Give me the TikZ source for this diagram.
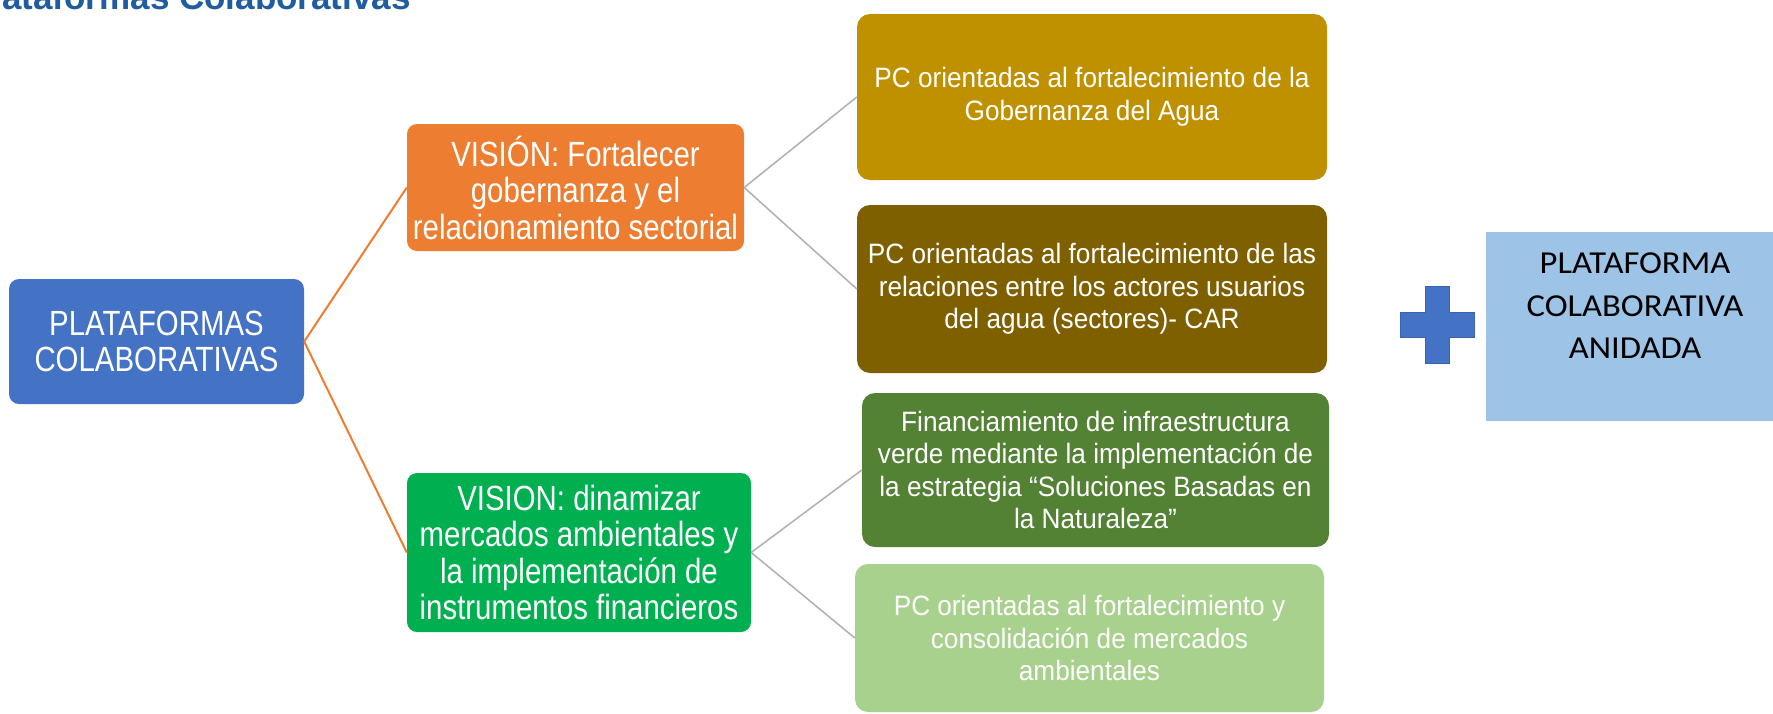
\documentclass[tikz,border=0pt]{standalone}
\usepackage{fontspec}
\setmainfont{Liberation Sans}
\newfontfamily\narrowL[FakeStretch=0.84]{Liberation Sans}
\newfontfamily\narrowR[FakeStretch=0.935]{Liberation Sans}
\newfontfamily\calib[FakeStretch=1.08]{Carlito}
\definecolor{cBlue}{HTML}{4472C4}
\definecolor{cBlueDk}{HTML}{3A63AE}
\definecolor{cOrange}{HTML}{ED7D31}
\definecolor{cGreen}{HTML}{00B050}
\definecolor{cGold}{HTML}{BF9000}
\definecolor{cBrown}{HTML}{7F6000}
\definecolor{cDkGreen}{HTML}{548235}
\definecolor{cLtGreen}{HTML}{A9D18E}
\definecolor{cLtBlue}{HTML}{9DC3E6}
\definecolor{cGray}{HTML}{B0B0B0}
\definecolor{cTitle}{HTML}{1F5CA0}
\begin{document}
\begin{tikzpicture}[x=1pt,y=-1pt,
  box/.style={rectangle, inner sep=0pt, align=center, text=white},
  lbox/.style={box, rounded corners=10pt, font=\narrowL\fontsize{35}{36.5}\selectfont},
  rbox/.style={box, rounded corners=13pt, font=\narrowR\fontsize{28}{32.5}\selectfont},
  orangeline/.style={draw=cOrange, line width=2pt},
  grayline/.style={draw=cGray, line width=1.5pt}]
\useasboundingbox (0,0) rectangle (1773,713);
\fill[white] (0,0) rectangle (1773,713);

\node[anchor=base west, inner sep=0pt, text=cTitle, font=\bfseries\fontsize{35}{40}\selectfont] (title) at (-31,9) {Plataformas Colaborativas};

\node[lbox, fill=cBlue, minimum width=295pt, minimum height=125pt] (plat) at (156.5,341.5) {PLATAFORMAS\\COLABORATIVAS};
\node[lbox, fill=cOrange, minimum width=337pt, minimum height=127pt] (vis1) at (575.5,187.5) {VISIÓN: Fortalecer\\gobernanza y el\\relacionamiento sectorial};
\node[lbox, fill=cGreen, minimum width=344pt, minimum height=159pt] (vis2) at (579,552.5) {VISION: dinamizar\\mercados ambientales y\\la implementación de\\instrumentos financieros};

\node[rbox, fill=cGold, minimum width=470pt, minimum height=166pt] (gob) at (1092,97) {PC orientadas al fortalecimiento de la\\Gobernanza del Agua};
\node[rbox, fill=cBrown, minimum width=470pt, minimum height=168pt] (rel) at (1092,289) {PC orientadas al fortalecimiento de las\\relaciones entre los actores usuarios\\del agua (sectores)- CAR};
\node[rbox, fill=cDkGreen, minimum width=467pt, minimum height=154pt] (fin) at (1095.5,470) {Financiamiento de infraestructura\\verde mediante la implementación de\\la estrategia “Soluciones Basadas en\\la Naturaleza”};
\node[rbox, fill=cLtGreen, minimum width=469pt, minimum height=148pt] (mer) at (1089.5,638) {PC orientadas al fortalecimiento y\\consolidación de mercados\\ambientales};

\draw[orangeline] (plat.east) -- (vis1.west);
\draw[orangeline] (plat.east) -- (vis2.west);
\draw[grayline] (vis1.east) -- (gob.west);
\draw[grayline] (vis1.east) -- (rel.west);
\draw[grayline] (vis2.east) -- (fin.west);
\draw[grayline] (vis2.east) -- (mer.west);

\fill[cBlue, draw=cBlueDk, line width=0.8pt] (1425,286) -- (1449,286) -- (1449,312) -- (1474,312) -- (1474,337) -- (1449,337) -- (1449,363) -- (1425,363) -- (1425,337) -- (1400,337) -- (1400,312) -- (1425,312) -- cycle;

\node[rectangle, inner sep=0pt, fill=cLtBlue, minimum width=294pt, minimum height=189pt, anchor=north west] (anid) at (1486,232) {};
\node[align=center, inner sep=0pt, text=black, font=\calib\fontsize{32}{42.5}\selectfont] (anidtxt) at (1635,306) {PLATAFORMA\\COLABORATIVA\\ANIDADA};
\end{tikzpicture}
\end{document}
